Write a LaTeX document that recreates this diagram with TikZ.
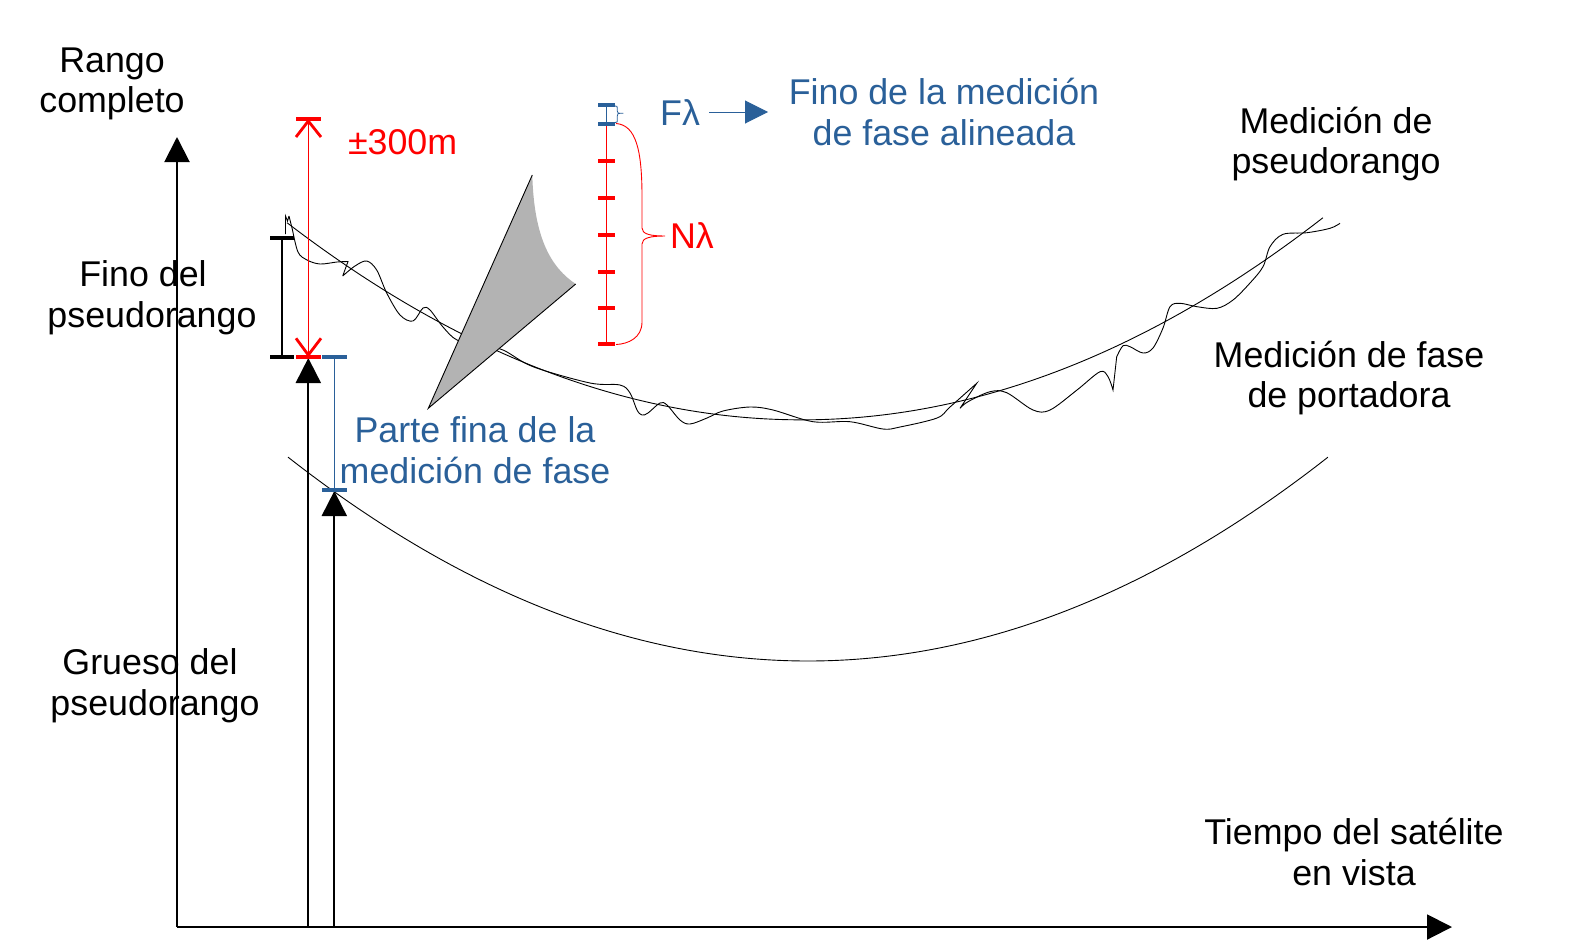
\documentclass[tikz,border=0pt]{standalone}
\usepackage{fontspec}
\setmainfont{Liberation Sans}
\usetikzlibrary{arrows.meta}
\definecolor{lblue}{HTML}{2A6099}
\definecolor{wedgegray}{HTML}{B3B3B3}
\begin{document}
\begin{tikzpicture}[x=1pt,y=-1pt,
  lbl/.style={font=\fontsize{35.8}{40.7}\selectfont, align=center, inner sep=0pt},
  axisline/.style={line width=2pt, -{Triangle[length=25pt,width=25pt]}},
  barline/.style={line width=4pt},
  stem/.style={line width=1.2pt},
  curveline/.style={line width=0.9pt},
  legline/.style={line width=2.8pt}]
\fill[white] (0,0) rectangle (1594,948);
\useasboundingbox (0,0) rectangle (1594,948);

% ---- axes ----
\coordinate (O) at (177,927);
\coordinate (Ytop) at (177,137);
\coordinate (Xend) at (1452,927);
\draw[axisline] (O) -- (Ytop);
\draw[axisline] (O) -- (Xend);

% ---- vertical arrows ----
\coordinate (A1b) at (308.3,927);
\coordinate (A1t) at (308.3,358);
\coordinate (A2b) at (334.3,927);
\coordinate (A2t) at (334.3,491);
\draw[axisline] (A1b) -- (A1t);
\draw[axisline] (A2b) -- (A2t);

% ---- curves ----
\draw[curveline] plot[domain=2.88:13.28, samples=140] ({100*\x},{661-7.54*(\x-8.08)*(\x-8.08)});
\draw[curveline] plot[domain=2.87:13.23, samples=140] ({100*\x},{-7.44*\x*\x+119.3*\x-58.4});
\draw[curveline] (285.5,234) -- (285.5,216) -- (287.5,221) -- (289,216)
  plot[smooth, tension=0.55] coordinates {(289,216) (292,228) (298,252) (307,260) (320,264) (337,262) (348,261.5)}
  -- (342.7,276)
  plot[smooth, tension=0.55] coordinates {(342.7,276) (355,266) (366.7,261) (376.7,270) (386.7,293) (400,315) (413,321) (423,308) (430,310) (443,327) (457,340) (480,345) (503,350) (533,366.7) (590,383) (620,385) (630,393) (637,410) (642,415) (648,413) (660,403) (667,405) (680,420) (690,424) (707,418) (723,411) (750,407) (773,410) (813,421.7) (850,421.7) (883,429) (900,427) (937,418) (950,407) (976.7,383.3)}
  -- (960,408.3)
  plot[smooth, tension=0.55] coordinates {(960,408.3) (968,401.7) (990,391.7) (1006.7,392.7) (1033,410) (1050,410) (1077,390) (1100,371.7) (1108,376.7) (1113,390)}
  -- (1116.7,356.7)
  plot[smooth, tension=0.55] coordinates {(1116.7,356.7) (1123,345.7) (1130,346.7) (1143,353) (1153,348) (1163,328) (1170,306.7) (1180,303.3) (1197,306.7) (1217,308.3) (1233,300) (1250,283) (1263,266.7) (1270,246.7) (1283,234.3) (1307,232.7) (1330,228.3) (1340,223.3)};

% ---- grey wedge ----
\coordinate (Wt) at (532.3,175);
\coordinate (Wb) at (428.3,408.3);
\coordinate (Wr) at (575.7,284);
\fill[wedgegray] (Wt) -- (Wb) -- (Wr) .. controls (552,268) and (534,240) .. (Wt) -- cycle;
\draw[curveline] (Wt) -- (Wb) -- (Wr);

% ---- black bracket (fino del pseudorango) ----
\draw[barline] (270,238.3) -- (294,238.3);
\draw[barline] (270,357) -- (294,357);
\draw[stem] (282,238.3) -- (282,357);

% ---- red +-300m ----
\coordinate (Rt) at (308.3,119);
\coordinate (Rb) at (308.3,357);
\draw[red, stem] (Rt) -- (Rb);
\draw[red, barline] (296,119) -- (321,119);
\draw[red, barline] (296,357) -- (321,357);
\draw[red, legline] (296,137) -- (308.3,121) -- (321,137);
\draw[red, legline] (296,338.3) -- (308.3,355) -- (321,338.3);

% ---- blue bracket ----
\draw[lblue, stem] (334.3,357) -- (334.3,490);
\draw[lblue, barline] (322,357) -- (347,357);
\draw[lblue, barline] (322,490) -- (347,490);

% ---- ruler ----
\draw[red, line width=1.3pt] (606.7,124) -- (606.7,344.3);
\foreach \yy in {160.7,197.7,234.7,271.7,307.7,344.3}
  \draw[red, barline] (598,\yy) -- (615,\yy);
\draw[lblue, stem] (606.7,105) -- (606.7,124);
\draw[lblue, line width=3.3pt] (598,105) -- (615,105);
\draw[lblue, line width=3.3pt] (598,124) -- (615,124);
\draw[lblue, line width=0.8pt] (615,106) .. controls (617.3,106) .. (617.3,109) -- (617.3,111) .. controls (617.3,113.3) .. (623.3,113.3)
  .. controls (617.3,113.3) .. (617.3,116) -- (617.3,119) .. controls (617.3,122.5) .. (615,122.5);
\draw[red, line width=0.9pt] (616,123.5) .. controls (636,125) and (642,150) .. (642,197) -- (642,228)
  .. controls (642,234) and (650,236) .. (665,236)
  .. controls (650,236) and (642,238) .. (642,244) -- (642,322)
  .. controls (642,338) and (628,344) .. (616,344.5);

% ---- labels ----
\node[lbl] (rango) at (112,84) {Rango\\completo};
\node[lbl] (fino) at (152,298) {Fino del\kern18pt\\pseudorango};
\node[lbl] (grueso) at (155,686) {Grueso del\kern10pt\\pseudorango};
\node[lbl, text=red] (pm) at (402.6,142.3) {±300m};
\node[lbl, text=lblue] (finofase) at (944,112) {Fino de la medición\\de fase alineada};
\node[lbl] (medpseudo) at (1336,144) {Medición de\\pseudorango};
\node[lbl] (medfase) at (1349,378) {Medición de fase\\de portadora};
\node[lbl, text=lblue] (parte) at (475,450) {Parte fina de la\\medición de fase};
\node[lbl] (tiempo) at (1354,852) {Tiempo del satélite\\en vista};
\node[lbl, text=lblue] (Fl) at (680,113) {Fλ};
\node[lbl, text=red] (Nl) at (692,236) {Nλ};
\coordinate (Fa) at (768,112);
\draw[lblue, line width=1pt, -{Triangle[length=23pt,width=23pt]}] ([xshift=9pt]Fl.east |- Fa) -- (Fa);
\end{tikzpicture}
\end{document}
